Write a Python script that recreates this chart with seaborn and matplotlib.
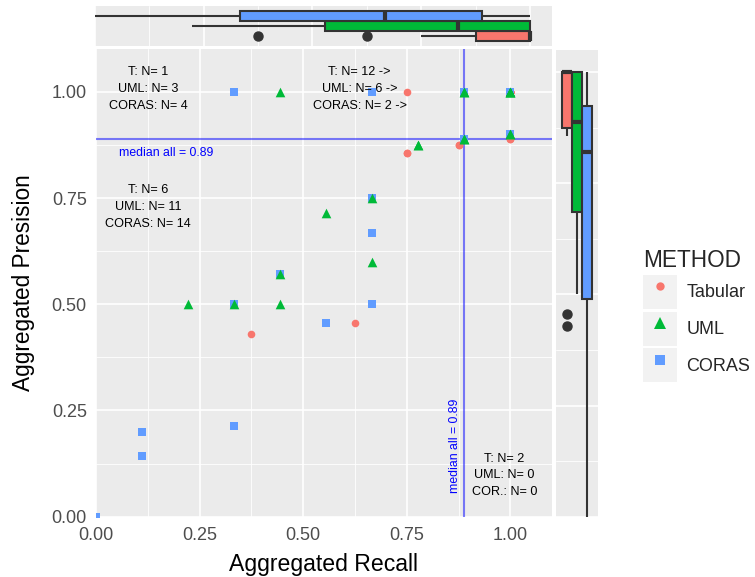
import matplotlib
matplotlib.use("Agg")
import matplotlib.pyplot as plt
import seaborn as sns
import pandas as pd
import numpy as np
from matplotlib.patches import Patch
from matplotlib.lines import Line2D

# datos
metodos = ["Tabular", "UML", "CORAS"]
colores = {"Tabular": "#F8766D", "UML": "#00BA38", "CORAS": "#619CFF"}
marcadores = {"Tabular": "o", "UML": "^", "CORAS": "s"}
tamanos = {"Tabular": 30, "UML": 48, "CORAS": 34}

tabular_recall = [0.75, 1, 1, 1, 1, 1, 1, 1, 1, 1, 1, 1, 1, 1, 1,
                  0.875, 0.875, 0.75, 0.75, 0.625, 0.375]
tabular_precision = [1.0, 1, 1, 1, 1, 1, 1, 1, 1, 1, 1, 1, 1, 0.889, 0.889,
                     0.875, 0.875, 0.857, 0.857, 0.455, 0.429]

uml_recall = [0.444, 0.889, 0.889, 1, 1, 1, 1, 1, 1, 0.222, 0.333, 0.444,
              0.444, 0.556, 0.667, 0.667, 0.778, 0.778, 0.889, 0.889]
uml_precision = [1.0, 1.0, 1.0, 1, 1, 1, 1, 0.9, 0.9, 0.5, 0.5, 0.5,
                 0.571, 0.714, 0.6, 0.75, 0.875, 0.875, 0.889, 0.889]

coras_recall = [0.333, 0.667, 0.889, 0.889, 1.0, 1.0, 0.0, 0.111, 0.111, 0.333,
                0.333, 0.444, 0.556, 0.667, 0.667, 0.667, 0.889, 0.889, 0.889, 0.889]
coras_precision = [1.0, 1.0, 1.0, 1.0, 1.0, 0.9, 0.0, 0.2, 0.143, 0.214,
                   0.5, 0.571, 0.455, 0.75, 0.667, 0.5, 0.889, 0.889, 0.889, 0.889]

datos = pd.DataFrame({
    "METHOD": ["Tabular"] * len(tabular_recall) + ["UML"] * len(uml_recall) + ["CORAS"] * len(coras_recall),
    "recall": tabular_recall + uml_recall + coras_recall,
    "precision": tabular_precision + uml_precision + coras_precision,
})
datos["grupo"] = "todos"

med_x = np.median(datos["recall"])
med_y = np.median(datos["precision"])

# conteos por cuadrante
def contar(cond):
    return {m: int(cond[datos["METHOD"] == m].sum()) for m in metodos}

izq = datos["recall"] <= med_x
arr = datos["precision"] > med_y
c_tl = contar(izq & arr)
c_tr = contar(~izq & arr)
c_bl = contar(izq & ~arr)
c_br = contar(~izq & ~arr)

sns.set_theme(style="darkgrid")
plt.rcParams["font.family"] = ["Liberation Sans", "DejaVu Sans"]

fondo = "#EBEBEB"
gris_txt = "#4D4D4D"
gris_lin = "#333333"

fig = plt.figure(figsize=(7.55, 5.77), dpi=100)
fig.patch.set_facecolor("white")

ax = fig.add_axes([0.1272, 0.1045, 0.6036, 0.8101])
ax_top = fig.add_axes([0.1258, 0.9203, 0.6049, 0.0693])
ax_der = fig.add_axes([0.7364, 0.1045, 0.0552, 0.8088])

def estilo(a):
    a.set_facecolor(fondo)
    for s in a.spines.values():
        s.set_visible(False)
    a.grid(True, which="major", color="white", linewidth=1.2)
    a.grid(True, which="minor", color="white", linewidth=0.6)
    a.set_axisbelow(True)

mayores = [0, 0.25, 0.5, 0.75, 1.0]
menores = [0.125, 0.375, 0.625, 0.875]

# grafico principal
estilo(ax)
ax.axhline(med_y, color="blue", alpha=0.5, linewidth=1.5, zorder=1)
ax.axvline(med_x, color="blue", alpha=0.5, linewidth=1.5, zorder=1)
for m in ["Tabular", "CORAS", "UML"]:
    sns.scatterplot(data=datos[datos["METHOD"] == m], x="recall", y="precision",
                    color=colores[m], marker=marcadores[m], s=tamanos[m],
                    linewidth=0, ax=ax, legend=False, zorder=3)
ax.set_xlim(0, 1.1)
ax.set_ylim(0, 1.1)
ax.set_xticks(mayores)
ax.set_yticks(mayores)
ax.set_xticks(menores, minor=True)
ax.set_yticks(menores, minor=True)
ax.set_xticklabels([f"{v:.2f}" for v in mayores])
ax.set_yticklabels([f"{v:.2f}" for v in mayores])
ax.tick_params(which="major", length=3.6, width=1, color=gris_lin, labelcolor=gris_txt,
               labelsize=13)
ax.tick_params(axis="x", pad=3.5)
ax.tick_params(axis="y", pad=3)
ax.tick_params(which="minor", length=0)
ax.set_xlabel("Aggregated Recall", fontsize=16.6, labelpad=7, color="black")
ax.set_ylabel("Aggregated Presision", fontsize=16.3, labelpad=12, color="black")

txt = dict(fontsize=9.1, ha="center", va="center", linespacing=1.55, color="black")
ax.text(0.126, 1.006, f"T: N= {c_tl['Tabular']}\nUML: N= {c_tl['UML']}\nCORAS: N= {c_tl['CORAS']}", **txt)
ax.text(0.636, 1.006, f"T: N= {c_tr['Tabular']} ->\nUML: N= {c_tr['UML']} ->\nCORAS: N= {c_tr['CORAS']} ->", **txt)
ax.text(0.126, 0.728, f"T: N= {c_bl['Tabular']}\nUML: N= {c_bl['UML']}\nCORAS: N= {c_bl['CORAS']}", **txt)
ax.text(0.986, 0.097, f"T: N= {c_br['Tabular']}\nUML: N= {c_br['UML']}\nCOR.: N= {c_br['CORAS']}", **txt)
ax.text(0.169, 0.857, f"median all = {med_y:.2f}", fontsize=8.8, color="blue", ha="center", va="center")
ax.text(0.8665, 0.168, f"median all = {med_x:.2f}", fontsize=8.8, color="blue", ha="center",
        va="center", rotation=90)

# cajas marginales
caja = dict(hue="METHOD", hue_order=metodos, palette=colores, width=0.75, saturation=1,
            linewidth=1.5, linecolor=gris_lin, fliersize=6.5, legend=False, showcaps=False,
            medianprops=dict(linewidth=3),
            flierprops=dict(marker="o", markerfacecolor=gris_lin, markeredgecolor=gris_lin))

estilo(ax_top)
sns.boxplot(data=datos, x="recall", y="grupo", orient="y", ax=ax_top, **caja)
ax_top.set_xlim(0, 1.05)
ax_top.set_ylim(-0.49, 0.49)
ax_top.set_xticks(mayores)
ax_top.set_xticks(menores, minor=True)
ax_top.set_yticks([0])
ax_top.tick_params(which="both", length=0, labelbottom=False, labelleft=False)
ax_top.set_xlabel("")
ax_top.set_ylabel("")

estilo(ax_der)
sns.boxplot(data=datos, x="grupo", y="precision", orient="x", ax=ax_der, **caja)
ax_der.set_ylim(0, 1.05)
ax_der.set_xlim(-0.52, 0.52)
ax_der.set_yticks(mayores)
ax_der.set_yticks(menores, minor=True)
ax_der.set_xticks([0])
ax_der.tick_params(which="both", length=0, labelbottom=False, labelleft=False)
ax_der.set_xlabel("")
ax_der.set_ylabel("")

# leyenda
manijas = [(Patch(facecolor="#F2F2F2", edgecolor="none"),
            Line2D([], [], marker=marcadores[m], color=colores[m], linestyle="none",
                   markersize={"Tabular": 6, "UML": 8, "CORAS": 6.5}[m], markeredgewidth=0))
           for m in metodos]
fig.legend(manijas, metodos, loc="upper left", bbox_to_anchor=(0.852, 0.568), frameon=False,
           title="METHOD", title_fontsize=16.3, fontsize=13, handlelength=1.88, handleheight=2.52,
           labelspacing=0.15, handletextpad=0.5, borderpad=0, borderaxespad=0,
           alignment="left")

plt.savefig("out.png", dpi=100)
